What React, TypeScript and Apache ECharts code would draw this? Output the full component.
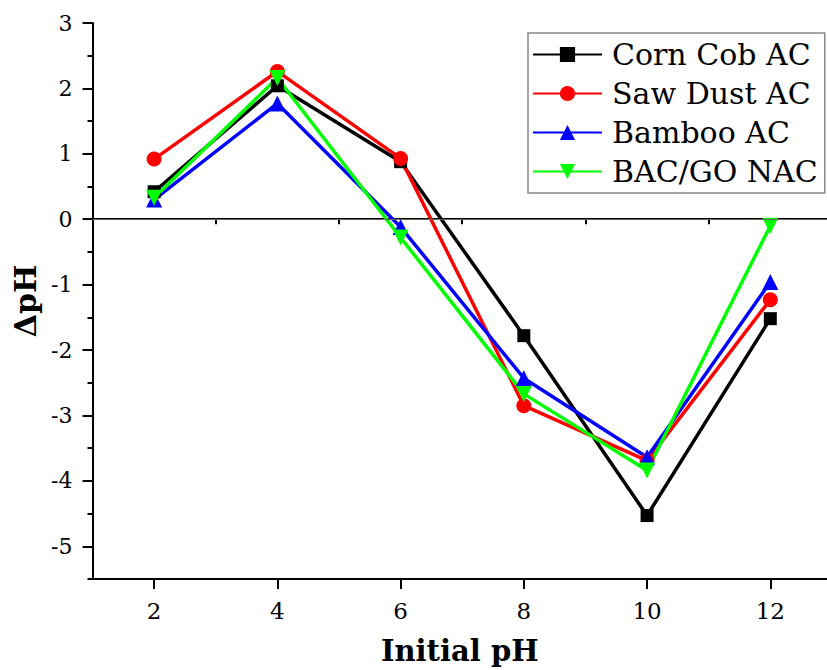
import React, { useEffect, useRef } from "react";
import * as echarts from "echarts";

const initialPH = [2, 4, 6, 8, 10, 12];
const cornCob = [0.42, 2.04, 0.88, -1.78, -4.53, -1.52];
const sawDust = [0.92, 2.26, 0.93, -2.85, -3.69, -1.23];
const bamboo = [0.3, 1.77, -0.12, -2.43, -3.64, -0.96];
const bacGo = [0.33, 2.16, -0.28, -2.67, -3.84, -0.1];
const seriesNames = ["Corn Cob AC", "Saw Dust AC", "Bamboo AC", "BAC/GO NAC"];
const xMajorTicks = [2, 4, 6, 8, 10, 12];
const xMinorTicks = [1, 3, 5, 7, 9, 11];
const yMajorTicks = [-5, -4, -3, -2, -1, 0, 1, 2, 3];
const yMinorTicks = [-5.5, -4.5, -3.5, -2.5, -1.5, -0.5, 0.5, 1.5, 2.5];
const X_MIN = 1;
const X_MAX = 12.92; // axis continues to 13 just past the right edge of the picture

const FONT = "DejaVu Serif";

export default function App() {
  const ref = useRef<HTMLDivElement>(null);
  useEffect(() => {
    if (!ref.current) return;
    const chart = echarts.init(ref.current, undefined, { renderer: "svg" });
    const pairs = (ys: number[]) => initialPH.map((x, i) => [x, ys[i]]);
    const common = (name: string, ys: number[], color: string, symbol: string, size: number, rotate = 0) => ({
      type: "line",
      name,
      data: pairs(ys),
      symbol,
      symbolSize: size,
      symbolRotate: rotate,
      showAllSymbol: true,
      lineStyle: { color, width: 3.5 },
      itemStyle: { color },
      xAxisIndex: 0,
      yAxisIndex: 0,
    });
    const s0: any = common(seriesNames[0], cornCob, "#000000", "rect", 13);
    s0.markLine = {
      silent: true,
      symbol: "none",
      label: { show: false },
      lineStyle: { color: "#666666", width: 1, type: "solid" },
      data: [{ yAxis: 0 }],
    };
    chart.setOption({
      animation: false,
      backgroundColor: "#ffffff",
      textStyle: { fontFamily: FONT },
      grid: {
        left: 92.5,
        top: 23,
        right: 0,
        bottom: 91,
        show: false,
        containLabel: false,
        outerBoundsMode: "none",
      },
      legend: {
        orient: "vertical",
        left: 528,
        top: 33,
        padding: [2, 7, 2, 4],
        itemGap: 0,
        itemWidth: 69,
        itemHeight: 19,
        borderColor: "#888888",
        borderWidth: 1.5,
        backgroundColor: "#ffffff",
        textStyle: { fontFamily: FONT, fontSize: 30, color: "#000", lineHeight: 39, padding: [0, 0, 0, 5] },
        data: seriesNames,
      },
      xAxis: [
        {
          type: "value",
          min: X_MIN,
          max: X_MAX,
          name: "Initial pH",
          nameLocation: "middle",
          nameGap: 57,
          nameTextStyle: { fontFamily: FONT, fontSize: 29, fontWeight: "bold", color: "#000" },
          axisLine: { show: true, onZero: false, lineStyle: { color: "#000", width: 2 } },
          axisTick: { show: true, length: 10, customValues: xMajorTicks, lineStyle: { color: "#000", width: 2 } },
          axisLabel: { customValues: xMajorTicks, margin: 20, fontFamily: FONT, fontSize: 23, color: "#000" },
          splitLine: { show: false },
        },
        {
          type: "value",
          min: X_MIN,
          max: X_MAX,
          position: "bottom",
          axisLine: { show: false },
          axisTick: { show: true, length: 5, customValues: xMinorTicks, lineStyle: { color: "#000", width: 2 } },
          axisLabel: { show: false },
          splitLine: { show: false },
        },
        {
          type: "value",
          min: X_MIN,
          max: X_MAX,
          position: "top",
          axisLine: { show: true, lineStyle: { color: "#000", width: 2 } },
          axisTick: { show: false },
          axisLabel: { show: false },
          splitLine: { show: false },
        },
      ],
      yAxis: [
        {
          type: "value",
          min: -5.5,
          max: 3,
          name: "ΔpH",
          nameLocation: "middle",
          nameGap: 50,
          nameTextStyle: { fontFamily: FONT, fontSize: 30, fontWeight: "bold", color: "#000" },
          axisLine: { show: true, onZero: false, lineStyle: { color: "#000", width: 2 } },
          axisTick: { show: true, length: 10, customValues: yMajorTicks, lineStyle: { color: "#000", width: 2 } },
          axisLabel: { customValues: yMajorTicks, margin: 20, fontFamily: FONT, fontSize: 22, color: "#000" },
          splitLine: { show: false },
        },
        {
          type: "value",
          min: -5.5,
          max: 3,
          position: "left",
          axisLine: { show: false },
          axisTick: { show: true, length: 5, customValues: yMinorTicks, lineStyle: { color: "#000", width: 2 } },
          axisLabel: { show: false },
          splitLine: { show: false },
        },
      ],
      series: [
        s0,
        common(seriesNames[1], sawDust, "#ff0000", "circle", 15),
        common(seriesNames[2], bamboo, "#0000ff", "triangle", 16),
        common(seriesNames[3], bacGo, "#00ff00", "triangle", 16, 180),
      ],
    });
    return () => chart.dispose();
  }, []);
  return <div ref={ref} style={{ position: "fixed", left: 0, top: 0, width: 827, height: 670 }} />;
}
